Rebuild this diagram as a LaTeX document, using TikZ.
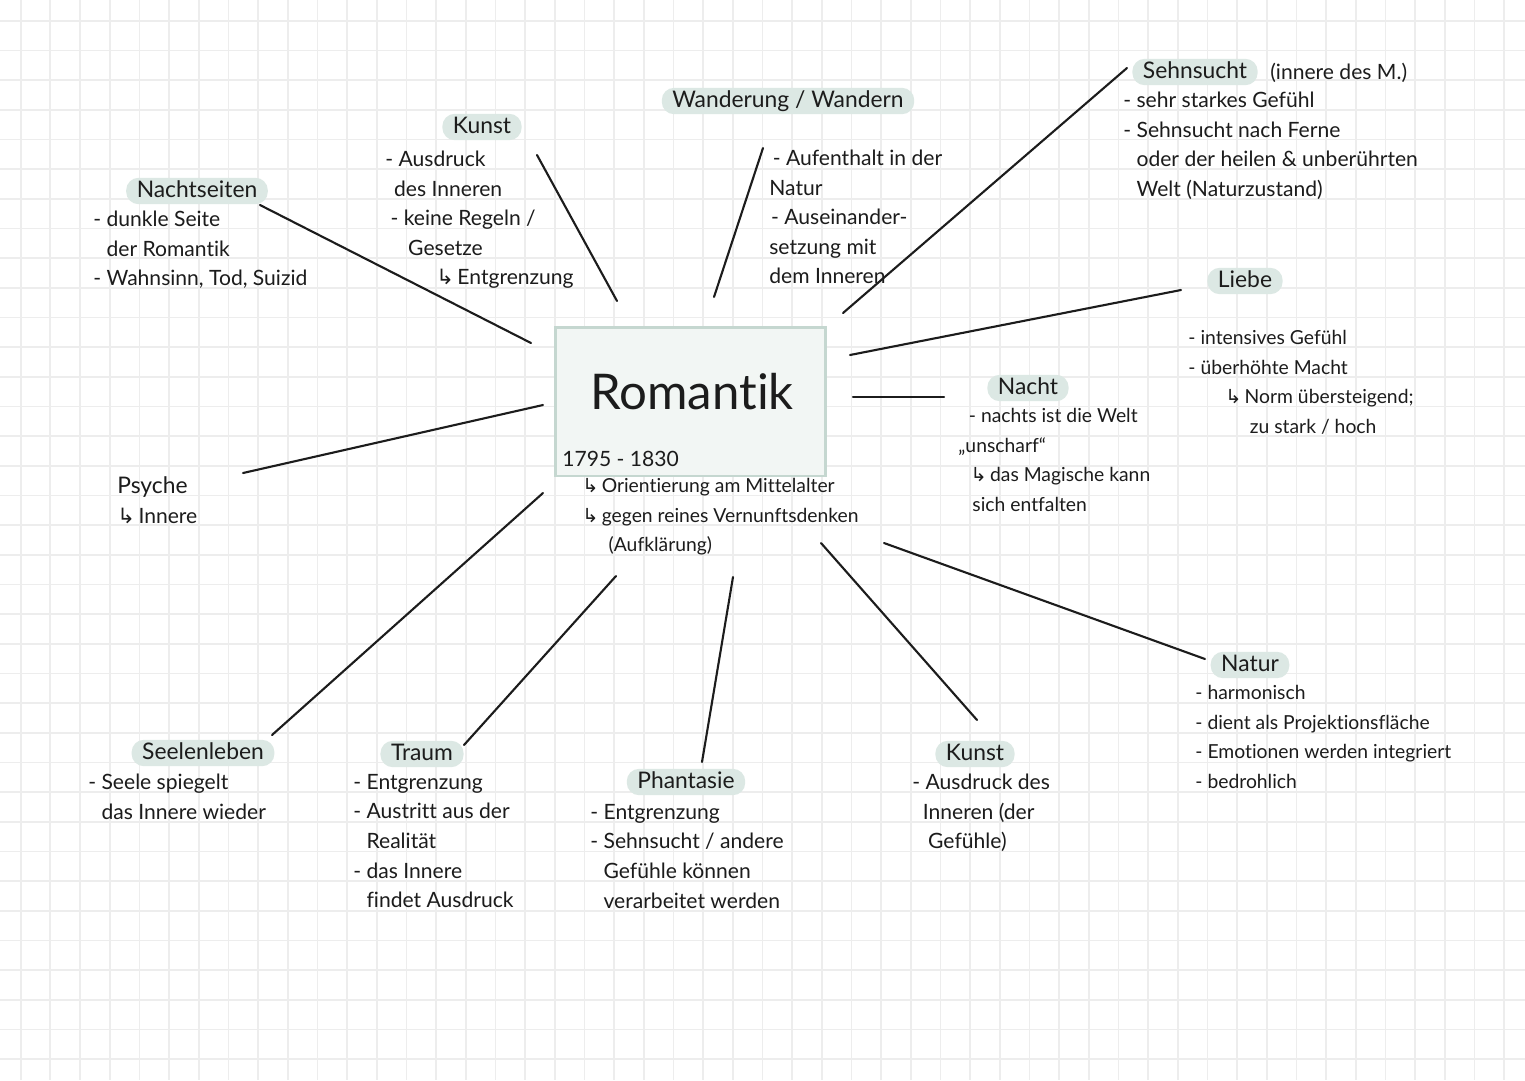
\documentclass[tikz,border=0pt]{standalone}
\usepackage{fontspec}
\setmainfont{Lato}[Ligatures={NoCommon}]
\newfontfamily\arrowfont{DejaVu Sans}
\usepackage{xcolor}
\usepackage{tikz}
\usetikzlibrary{positioning}

\definecolor{pillgreen}{HTML}{DCE8E4}
\definecolor{boxline}{HTML}{C5D7D0}
\definecolor{boxfill}{HTML}{F2F6F4}
\definecolor{gridgray}{HTML}{EDEDED}
\definecolor{ink}{HTML}{1C1C1C}

\newcommand{\notefont}{\fontsize{12}{16.8}\selectfont}
\newcommand{\smallnote}{\fontsize{11}{16.8}\selectfont}
\newcommand{\topicfont}{\fontsize{13}{16}\selectfont}
\newcommand{\hookto}{{\arrowfont ↳}\,}

\begin{document}
\begin{tikzpicture}[
        x=0.02cm, y=-0.02cm,
        gridline/.style={gridgray, line width=1pt},
        branch/.style={ink, line width=1.2pt, line cap=round},
        topic/.style={fill=pillgreen, rounded corners=7pt, inner xsep=6pt, inner ysep=2pt,
            text height=9pt, text depth=2pt, font=\topicfont, text=ink},
        notes/.style={align=left, anchor=north west, inner sep=0pt, font=\notefont, text=ink},
        mainbox/.style={draw=boxline, fill=boxfill, line width=1.7pt,
            minimum width=5.42cm, minimum height=2.98cm}
    ]
        \def\gridsep{29.67}
        \def\gridoff{20.7}

        \useasboundingbox (0,0) rectangle (1525,1080);
        \fill[white] (0,0) rectangle (1525,1080);
        \foreach \i in {0,...,50}
            \draw[gridline] ({\gridoff+\i*\gridsep},0) -- ({\gridoff+\i*\gridsep},1080);
        \foreach \i in {0,...,35}
            \draw[gridline] (0,{\gridoff+\i*\gridsep}) -- (1525,{\gridoff+\i*\gridsep});

        \node[mainbox] (romantik) at (690.5,401.5) {};
        \node[font=\fontsize{28}{30}\selectfont, text=ink] (title) at (692,392) {Romantik};
        \node[anchor=west, inner sep=0pt, font=\notefont, text=ink] (epoch) at (562,459) {1795 - 1830};
        \node[notes, font=\smallnote] (epochTxt) at (582,478)
            {\hookto Orientierung am Mittelalter\\\hookto gegen reines Vernunftsdenken\\\hspace*{15pt}(Aufklärung)};

        \node[topic] (nachtseiten) at (197,191) {Nachtseiten};
        \node[notes] (nachtseitenTxt) at (93,211)
            {- dunkle Seite\\\phantom{- }der Romantik\\- Wahnsinn, Tod, Suizid};

        \node[topic] (kunstA) at (482,127) {Kunst};
        \node[notes] (kunstATxt) at (385,151)
            {- Ausdruck\\\hspace*{5pt}des Inneren\\\hspace*{3pt}- keine Regeln /\\\hspace*{13pt}Gesetze\\\hspace*{29pt}\hookto Entgrenzung};

        \node[topic] (wanderung) at (788,101) {Wanderung / Wandern};
        \node[notes] (wanderungTxt) at (769,150)
            {\hspace*{2pt}- Aufenthalt in der\\Natur\\\hspace*{1pt}- Auseinander-\\setzung mit\\dem Inneren};

        \node[topic] (sehnsucht) at (1195,72) {Sehnsucht};
        \node[anchor=west, inner sep=0pt, font=\notefont, text=ink] (sehnsuchtZusatz) at (1270,73) {(innere des M.)};
        \node[notes] (sehnsuchtTxt) at (1123,92)
            {- sehr starkes Gefühl\\- Sehnsucht nach Ferne\\\phantom{- }oder der heilen \& unberührten\\\phantom{- }Welt (Naturzustand)};

        \node[topic] (liebe) at (1245,281) {Liebe};
        \node[notes, font=\smallnote] (liebeTxt) at (1188,330)
            {- intensives Gefühl\\- überhöhte Macht\\\hspace*{21pt}\hookto Norm übersteigend;\\\hspace*{35pt}zu stark / hoch};

        \node[topic] (nacht) at (1028,388) {Nacht};
        \node[notes, font=\smallnote] (nachtTxt) at (958,408)
            {\hspace*{6pt}- nachts ist die Welt\\„unscharf“\\\hspace*{7pt}\hookto das Magische kann\\\hspace*{8pt}sich entfalten};

        \node[anchor=west, inner sep=0pt, font=\topicfont, text=ink] (psyche) at (117,487) {Psyche};
        \node[anchor=west, inner sep=0pt, font=\notefont, text=ink] (psycheTxt) at (117,516) {\hookto Innere};

        \node[topic] (seelenleben) at (203,753) {Seelenleben};
        \node[notes] (seelenlebenTxt) at (88,774)
            {- Seele spiegelt\\\phantom{- }das Innere wieder};

        \node[topic] (traum) at (422,754) {Traum};
        \node[notes] (traumTxt) at (353,774)
            {- Entgrenzung\\- Austritt aus der\\\phantom{- }Realität\\- das Innere\\\phantom{- }findet Ausdruck};

        \node[topic] (phantasie) at (686,782) {Phantasie};
        \node[notes] (phantasieTxt) at (590,804)
            {- Entgrenzung\\- Sehnsucht / andere\\\phantom{- }Gefühle können\\\phantom{- }verarbeitet werden};

        \node[topic] (kunstB) at (975,754) {Kunst};
        \node[notes] (kunstBTxt) at (912,774)
            {- Ausdruck des\\\hspace*{6pt}Inneren (der\\\hspace*{9pt}Gefühle)};

        \node[topic] (natur) at (1250,665) {Natur};
        \node[notes, font=\smallnote] (naturTxt) at (1195,685)
            {- harmonisch\\- dient als Projektionsfläche\\- Emotionen werden integriert\\- bedrohlich};

        \foreach \n/\tx/\ty/\cx/\cy in {
                1/260/205/531/343, 2/537/155/617/301, 3/763/148/714/297,
                4/1127/68/843/313, 5/1181/290/850/355, 6/944/397/853/397,
                7/243/473/543/405, 8/272/735/543/493, 9/464/745/616/576,
                10/702/762/733/577, 11/977/720/821/543, 12/1205/659/884/543} {
            \coordinate (t\n) at (\tx,\ty);
            \coordinate (c\n) at (\cx,\cy);
        }
        \foreach \n in {1,...,12}
            \draw[branch] (t\n) -- (c\n);
    \end{tikzpicture}
\end{document}
